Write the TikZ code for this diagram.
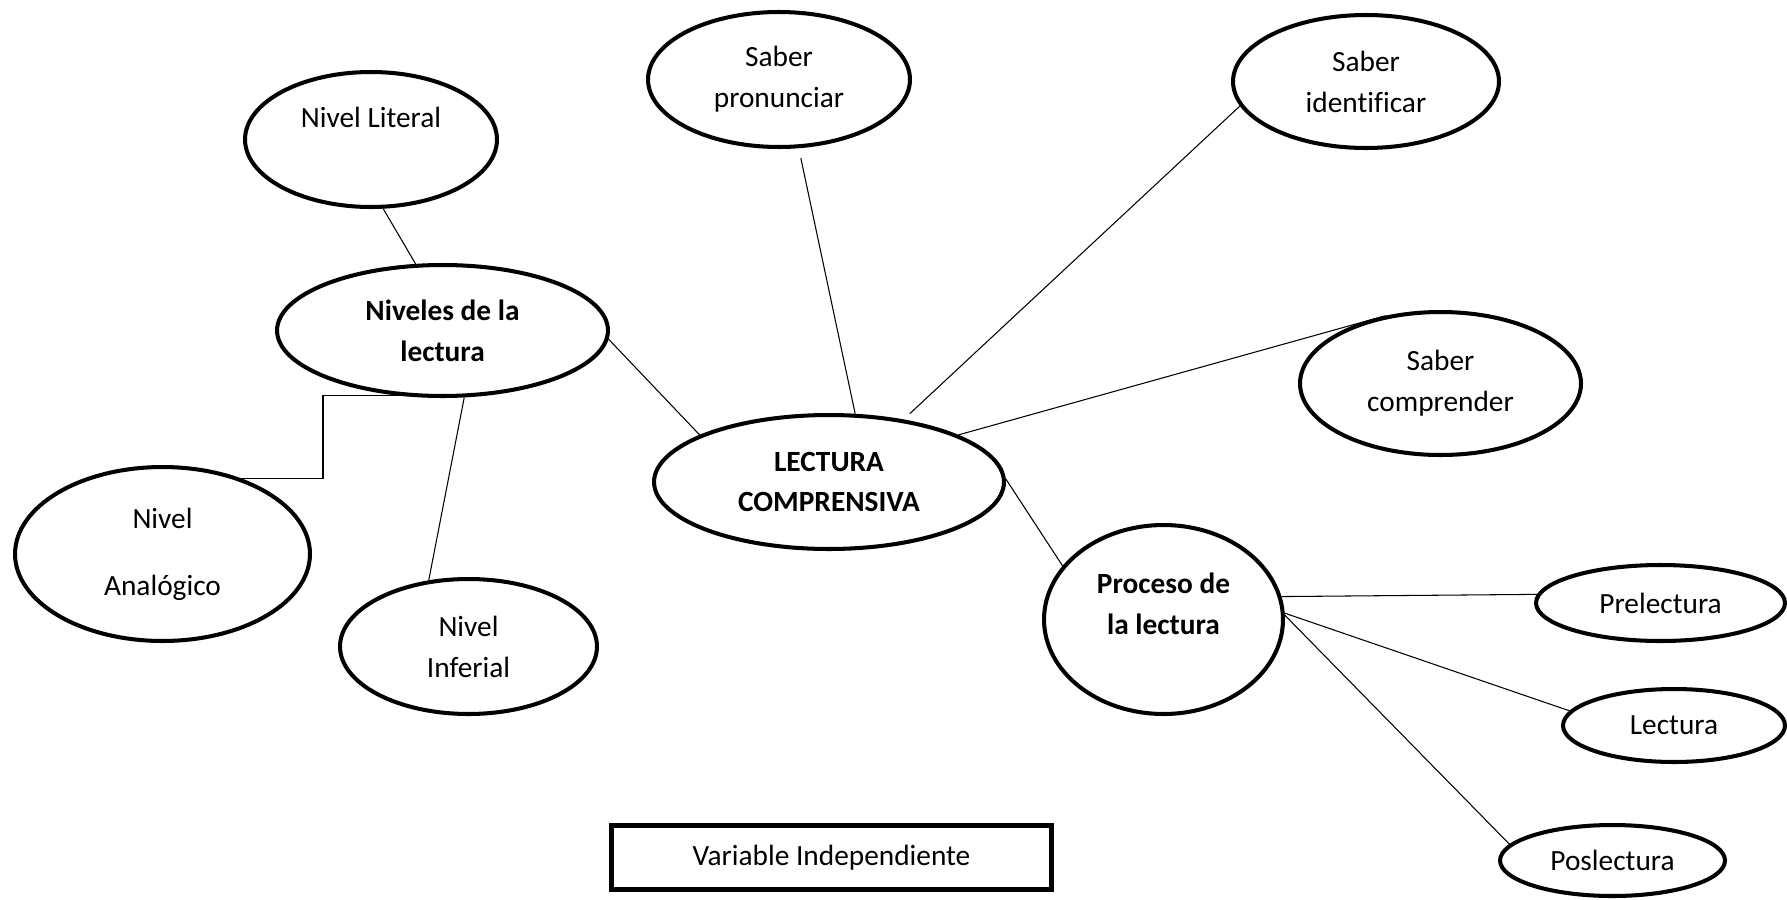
\documentclass[tikz,border=0pt]{standalone}
\usepackage{fontspec}
\setmainfont[Ligatures=NoCommon]{Carlito}
\usetikzlibrary{shapes.geometric}
\begin{document}
\begin{tikzpicture}[x=0.02cm,y=-0.02cm,inner sep=0pt,
  font=\fontsize{16.7}{23.3}\selectfont,
  ell/.style={draw,ellipse,line width=2.3pt,align=center},
  lnk/.style={line width=0.6pt}]
\useasboundingbox (0,0) rectangle (1787,899);
\node[ell,minimum width=5.04cm,minimum height=2.70cm,text depth=0.88cm] (lit) at (371,139.5) {Nivel Literal};
\node[ell,minimum width=6.62cm,minimum height=2.62cm,font=\fontsize{16.7}{23.3}\selectfont\bfseries] (niv) at (442.5,330.5) {Niveles de la\\lectura};
\node[ell,minimum width=5.24cm,minimum height=2.70cm] (pro) at (779,79.5) {Saber\\pronunciar};
\node[ell,minimum width=5.32cm,minimum height=2.66cm] (ide) at (1366,81.5) {Saber\\identificar};
\node[ell,minimum width=5.62cm,minimum height=2.86cm] (com) at (1440.5,383.5) {Saber\\comprender};
\node[ell,minimum width=7.00cm,minimum height=2.68cm,font=\fontsize{16.7}{23.3}\selectfont\bfseries] (lec) at (829,482) {LECTURA\\COMPRENSIVA};
\node[ell,minimum width=5.90cm,minimum height=3.48cm] (ana) at (162.5,554) {Nivel\\[14.8pt]Analógico};
\node[ell,minimum width=5.14cm,minimum height=2.70cm] (inf) at (468.5,646.5) {Nivel\\Inferial};
\node[ell,minimum width=4.78cm,minimum height=3.78cm,text depth=0.62cm,font=\fontsize{16.7}{23.3}\selectfont\bfseries] (pdl) at (1163.5,619.5) {Proceso de\\la lectura};
\node[ell,minimum width=4.98cm,minimum height=1.52cm] (pre) at (1660.5,603) {Prelectura};
\node[ell,minimum width=4.44cm,minimum height=1.46cm] (lea) at (1674,725.5) {Lectura};
\node[ell,minimum width=4.50cm,minimum height=1.42cm] (pos) at (1612.5,860.5) {Poslectura};
\node[draw,line width=2.85pt,minimum width=8.8cm,minimum height=1.28cm] (var) at (831.5,857.5) {Variable Independiente};
\coordinate (knee) at (323,440);
\draw[lnk] (lit.280) -- (niv.112) (niv.357) -- (lec.160) (com.129) -- (lec.20)
  (lec.1) -- (pdl.152) (pdl.11) -- (pre.176) (pdl.3) -- (lea.172) (pdl.2) -- (pos.171)
  (niv.288) -- (inf.121);
\draw[lnk,shorten <=0.2cm] (pro.286) -- (lec.69);
\draw[lnk,shorten >=0.17cm] (ide.191) -- (lec.40);
\draw[lnk] (niv.237) -| (knee) |- (ana.44);
\end{tikzpicture}
\end{document}
